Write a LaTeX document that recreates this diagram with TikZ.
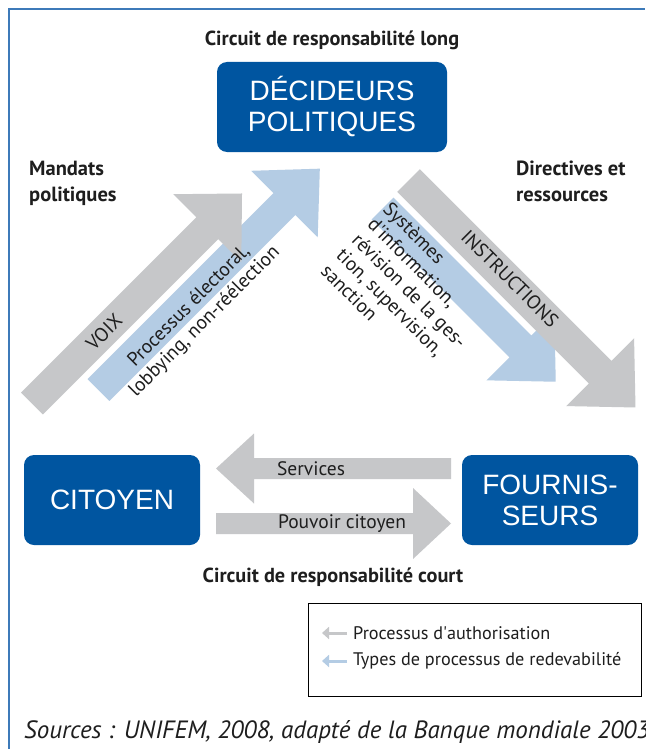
\documentclass[tikz,border=0pt]{standalone}
\usepackage{fontspec}
\setmainfont{PT Sans}
\newfontfamily\boxfont{Liberation Sans}
\usetikzlibrary{arrows.meta}
\definecolor{boxblue}{RGB}{0,85,160}
\definecolor{arrgray}{RGB}{198,199,201}
\definecolor{arrblue}{RGB}{180,204,228}
\definecolor{framecol}{RGB}{61,122,185}
\definecolor{txt}{RGB}{30,30,30}
\newcommand\BlockArrow[7]{%
  \begin{scope}[shift={#2},rotate=#3]
    \fill[#1] (0,-#5) -- ({#4-#7},-#5) -- ({#4-#7},-#6) -- (#4,0) -- ({#4-#7},#6) -- ({#4-#7},#5) -- (0,#5) -- cycle;
  \end{scope}}
\tikzset{
  actor/.style={fill=boxblue, rounded corners=10pt, text=white, align=center,
    font=\boxfont\fontsize{28}{31}\selectfont, minimum width=176pt, minimum height=90pt, inner sep=0pt},
  headlbl/.style={font=\bfseries\fontsize{20.3}{24}\selectfont, text=txt, inner sep=0pt},
  sidelbl/.style={font=\bfseries\fontsize{20.5}{26}\selectfont, text=txt, inner sep=0pt, align=left},
  arrtxt/.style={font=\fontsize{19.5}{22}\selectfont, text=txt, inner sep=0pt},
  legtxt/.style={font=\fontsize{18.2}{22}\selectfont, text=txt, inner sep=0pt},
  legarr/.style={line width=3pt, -{Triangle[length=7pt,width=12pt]}},
}
\begin{document}
\begin{tikzpicture}[x=1pt,y=-1pt]
\useasboundingbox (0,0) rectangle (645,749);
\fill[white] (0,0) rectangle (645,749);
\draw[framecol, line width=2pt] (9,749) -- (9,9) -- (645,9);

% upper block arrows
\BlockArrow{arrblue}{(98.5,390)}{45}{313}{15.5}{47}{50}
\BlockArrow{arrgray}{(32,403.5)}{45}{297}{15.5}{48}{49}
\BlockArrow{arrblue}{(382.5,208.5)}{-45}{245}{15.5}{48}{50}
\BlockArrow{arrgray}{(408.5,180.5)}{-45}{321}{16}{48}{50}
% lower block arrows
\BlockArrow{arrgray}{(451,468.5)}{180}{235}{10.5}{35}{38}
\BlockArrow{arrgray}{(216,523.5)}{0}{235}{10.5}{35.5}{38}

% actors
\node[actor, minimum width=230pt] (dec) at (332,107) {DÉCIDEURS\\POLITIQUES};
\node[actor] (cit) at (112,500) {CITOYEN};
\node[actor] (fou) at (550,500) {FOURNIS-\\SEURS};

% headings
\node[headlbl] (long) at (332,40) {Circuit de responsabilité long};
\node[headlbl] (court) at (333,577) {Circuit de responsabilité court};
\node[sidelbl, anchor=west] (mand) at (29,183) {Mandats\\politiques};
\node[sidelbl, anchor=west] (dir) at (516,181) {Directives et\\ressources};

% arrow texts
\node[arrtxt, rotate=45] (voix) at (104,332) {VOIX};
\node[arrtxt, rotate=45, align=center] (proc) at (197,314) {Processus électoral,\\lobbying, non-réélection};
\node[arrtxt, rotate=-45] (instr) at (510,278.5) {INSTRUCTIONS};
\node[arrtxt, rotate=-45, align=left, anchor=north west] (sys) at (392,200) {Systèmes\\d\textquotesingle information,\\révision de la ges-\\tion, supervision,\\sanction};
\node[arrtxt] (serv) at (311,469) {Services};
\node[arrtxt] (pouv) at (342,524) {Pouvoir citoyen};

% legend
\draw[line width=1pt] (308,603) rectangle (641,696);
\coordinate (g1) at (347,633);
\coordinate (g0) at (322,633);
\coordinate (b1) at (347,661);
\coordinate (b0) at (322,661);
\draw[legarr, arrgray] (g1) -- (g0);
\draw[legarr, arrblue] (b1) -- (b0);
\node[legtxt, anchor=west] (leg1) at (353,633) {Processus d\textquotesingle authorisation};
\node[legtxt, anchor=west] (leg2) at (353,661) {Types de processus de redevabilité};

% source
\node[anchor=base west, inner sep=0pt, text=txt, font=\itshape\fontsize{25}{28}\selectfont] (src) at (24,738) {Sources : UNIFEM, 2008, adapté de la Banque mondiale 2003};
\end{tikzpicture}
\end{document}
